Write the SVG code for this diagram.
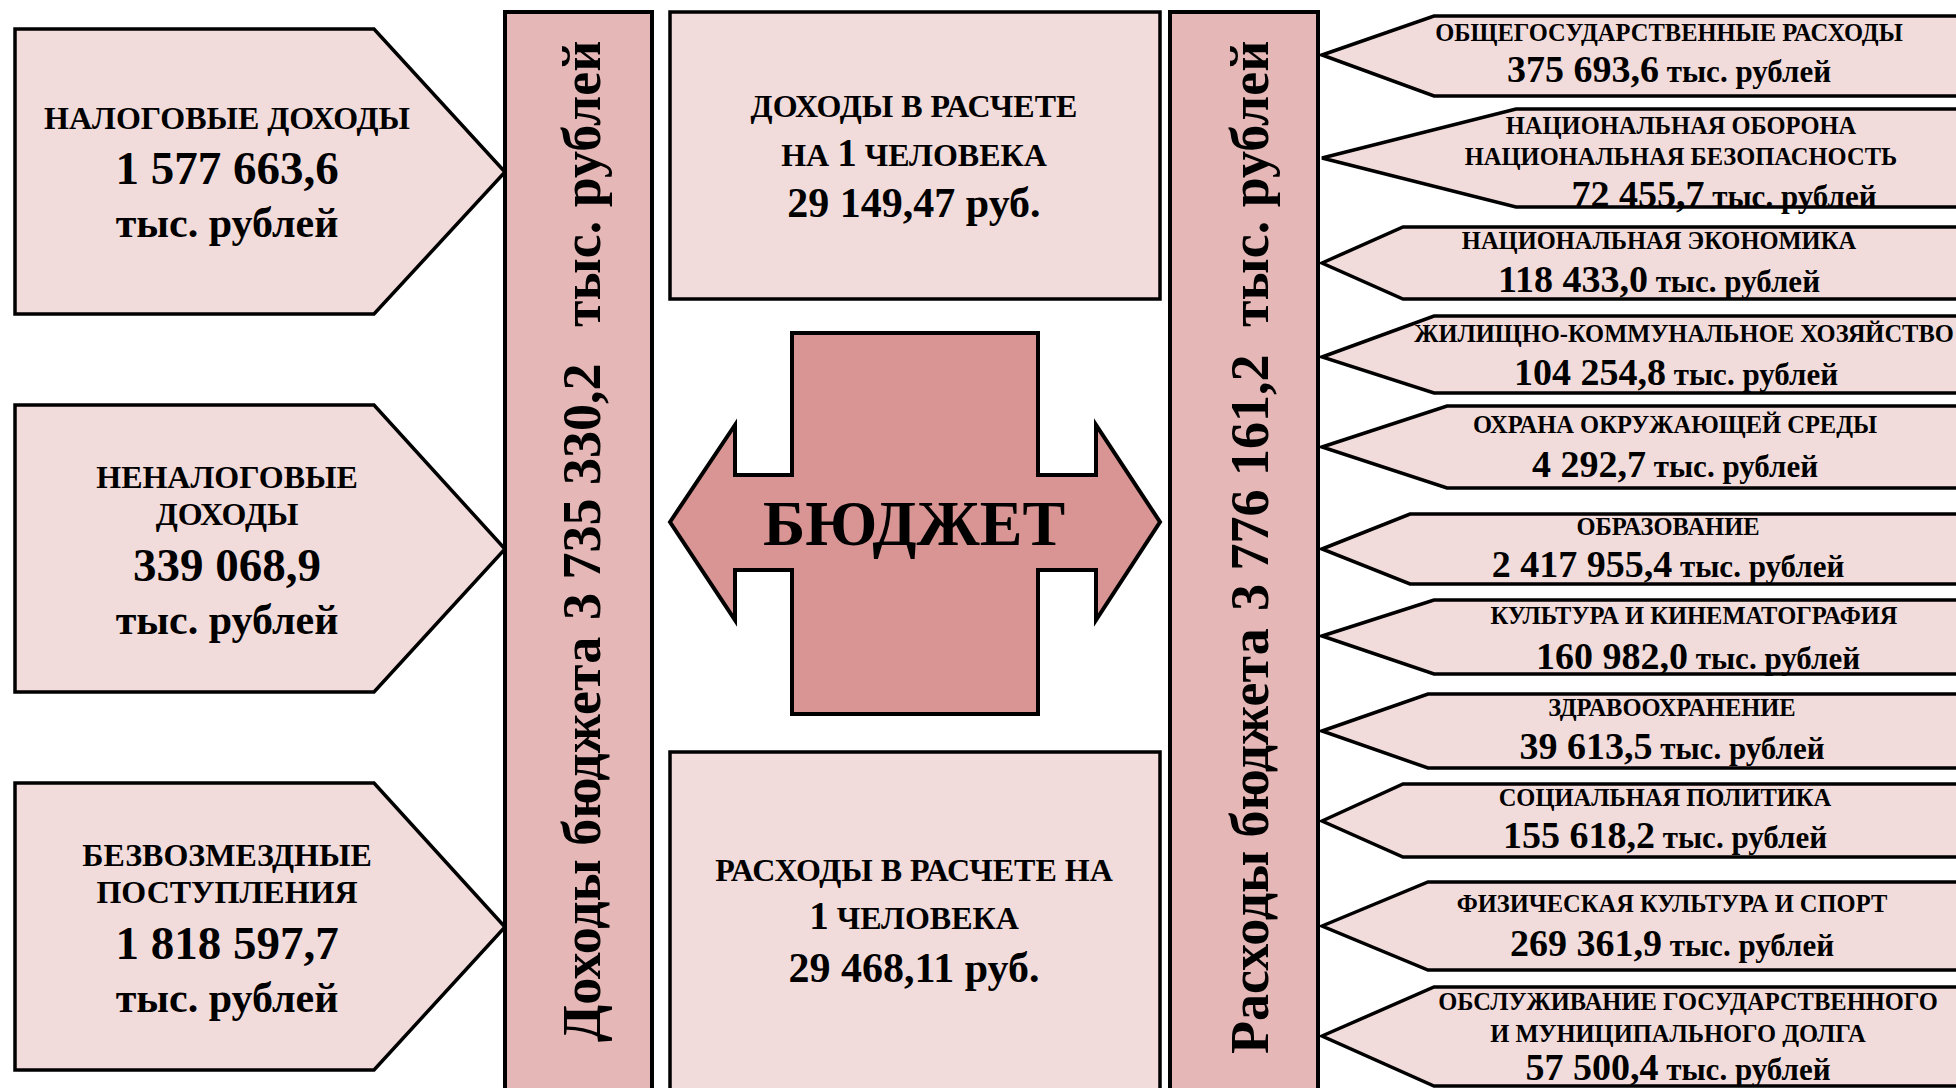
<svg xmlns="http://www.w3.org/2000/svg" width="1956" height="1088" viewBox="0 0 1956 1088">
<style>
.lt{fill:#f2dcdb;stroke:#000;stroke-width:3.5}
.bar{fill:#e5b8b7;stroke:#000;stroke-width:4}
.cross{fill:#d99594;stroke:#000;stroke-width:4}
text{font-family:"Liberation Serif","Times New Roman",serif;font-weight:bold;fill:#000;text-anchor:middle}
.cap{font-size:32px}
.num{font-size:47px}
.unit{font-size:42px}
.rc{font-size:24.5px}
.rn{font-size:38px}
.ru{font-size:31px}
.vt{font-size:54px;text-anchor:start}
</style>
<rect width="1956" height="1088" fill="#fff"/>

<g id="income-tax">
<polygon class="lt" points="15,29 374,29 505,172 374,314 15,314"/>
<text class="cap" x="227" y="129">НАЛОГОВЫЕ ДОХОДЫ</text>
<text class="num" x="227" y="184">1 577 663,6</text>
<text class="unit" x="227" y="237">тыс. рублей</text>
</g>
<g id="income-nontax">
<polygon class="lt" points="15,405 374,405 505,549 374,692 15,692"/>
<text class="cap" x="227" y="488">НЕНАЛОГОВЫЕ</text>
<text class="cap" x="227" y="525">ДОХОДЫ</text>
<text class="num" x="227" y="581">339 068,9</text>
<text class="unit" x="227" y="634">тыс. рублей</text>
</g>
<g id="income-free">
<polygon class="lt" points="15,783 374,783 505,927 374,1070 15,1070"/>
<text class="cap" x="227" y="866">БЕЗВОЗМЕЗДНЫЕ</text>
<text class="cap" x="227" y="903">ПОСТУПЛЕНИЯ</text>
<text class="num" x="227" y="959">1 818 597,7</text>
<text class="unit" x="227" y="1012">тыс. рублей</text>
</g>

<g id="income-bar">
<rect class="bar" x="505" y="12" width="147" height="1080"/>
<text class="vt" transform="translate(600,0) rotate(-90)"><tspan x="-1042" y="0">Доходы бюджета</tspan><tspan x="-620" y="0">3 735 330,2</tspan><tspan x="-327" y="0">тыс. рублей</tspan></text>
</g>

<g id="expense-bar">
<rect class="bar" x="1170" y="12" width="148" height="1080"/>
<text class="vt" transform="translate(1268,0) rotate(-90)"><tspan x="-1054" y="0">Расходы бюджета</tspan><tspan x="-611" y="0">3 776 161,2</tspan><tspan x="-327" y="0">тыс. рублей</tspan></text>
</g>

<g id="per-capita-income">
<rect class="lt" x="670" y="12" width="490" height="287"/>
<text class="cap" x="914" y="117">ДОХОДЫ В РАСЧЕТЕ</text>
<text class="cap" x="914" y="166">НА <tspan font-size="39">1</tspan> ЧЕЛОВЕКА</text>
<text class="unit" x="914" y="217">29 149,47 руб.</text>
</g>

<g id="per-capita-expense">
<rect class="lt" x="670" y="752" width="490" height="340"/>
<text class="cap" x="914" y="881">РАСХОДЫ В РАСЧЕТЕ НА</text>
<text class="cap" x="914" y="929"><tspan font-size="39">1</tspan> ЧЕЛОВЕКА</text>
<text class="unit" x="914" y="982">29 468,11 руб.</text>
</g>

<g id="budget">
<path class="cross" d="M670,522 L735,425 L735,475 L792,475 L792,333 L1038,333 L1038,475 L1096,475 L1096,425 L1160,522 L1096,620 L1096,570 L1038,570 L1038,714 L792,714 L792,570 L735,570 L735,620 Z"/>
<text x="914" y="545" font-size="64">БЮДЖЕТ</text>
</g>

<g id="exp1">
<polygon class="lt" points="1322,55 1434,16 1960,16 1960,96 1434,96"/>
<text class="rc" x="1669" y="41">ОБЩЕГОСУДАРСТВЕННЫЕ РАСХОДЫ</text>
<text x="1669" y="82"><tspan class="rn">375 693,6</tspan><tspan class="ru"> тыс. рублей</tspan></text>
</g>
<g id="exp2">
<polygon class="lt" points="1322,158 1516,109 1960,109 1960,207 1516,207"/>
<text class="rc" x="1681" y="134">НАЦИОНАЛЬНАЯ ОБОРОНА</text>
<text class="rc" x="1681" y="165">НАЦИОНАЛЬНАЯ БЕЗОПАСНОСТЬ</text>
<text x="1724" y="207"><tspan class="rn">72 455,7</tspan><tspan class="ru"> тыс. рублей</tspan></text>
</g>
<g id="exp3">
<polygon class="lt" points="1322,263 1403,227 1960,227 1960,299 1403,299"/>
<text class="rc" x="1659" y="249">НАЦИОНАЛЬНАЯ ЭКОНОМИКА</text>
<text x="1659" y="292"><tspan class="rn">118 433,0</tspan><tspan class="ru"> тыс. рублей</tspan></text>
</g>
<g id="exp4">
<polygon class="lt" points="1322,357 1434,316 1960,316 1960,393 1434,393"/>
<text class="rc" x="1684" y="342">ЖИЛИЩНО-КОММУНАЛЬНОЕ ХОЗЯЙСТВО</text>
<text x="1676" y="385"><tspan class="rn">104 254,8</tspan><tspan class="ru"> тыс. рублей</tspan></text>
</g>
<g id="exp5">
<polygon class="lt" points="1322,447 1447,406 1960,406 1960,488 1447,488"/>
<text class="rc" x="1675" y="433">ОХРАНА ОКРУЖАЮЩЕЙ СРЕДЫ</text>
<text x="1675" y="477"><tspan class="rn">4 292,7</tspan><tspan class="ru"> тыс. рублей</tspan></text>
</g>
<g id="exp6">
<polygon class="lt" points="1322,549 1410,514 1960,514 1960,584 1410,584"/>
<text class="rc" x="1668" y="535">ОБРАЗОВАНИЕ</text>
<text x="1668" y="577"><tspan class="rn">2 417 955,4</tspan><tspan class="ru"> тыс. рублей</tspan></text>
</g>
<g id="exp7">
<polygon class="lt" points="1322,636 1434,600 1960,600 1960,674 1434,674"/>
<text class="rc" x="1694" y="624">КУЛЬТУРА И КИНЕМАТОГРАФИЯ</text>
<text x="1698" y="669"><tspan class="rn">160 982,0</tspan><tspan class="ru"> тыс. рублей</tspan></text>
</g>
<g id="exp8">
<polygon class="lt" points="1322,731 1428,694 1960,694 1960,768 1428,768"/>
<text class="rc" x="1672" y="716">ЗДРАВООХРАНЕНИЕ</text>
<text x="1672" y="759"><tspan class="rn">39 613,5</tspan><tspan class="ru"> тыс. рублей</tspan></text>
</g>
<g id="exp9">
<polygon class="lt" points="1322,821 1403,784 1960,784 1960,857 1403,857"/>
<text class="rc" x="1665" y="806">СОЦИАЛЬНАЯ ПОЛИТИКА</text>
<text x="1665" y="848"><tspan class="rn">155 618,2</tspan><tspan class="ru"> тыс. рублей</tspan></text>
</g>
<g id="exp10">
<polygon class="lt" points="1322,926 1428,882 1960,882 1960,970 1428,970"/>
<text class="rc" x="1672" y="912">ФИЗИЧЕСКАЯ КУЛЬТУРА И СПОРТ</text>
<text x="1672" y="956"><tspan class="rn">269 361,9</tspan><tspan class="ru"> тыс. рублей</tspan></text>
</g>
<g id="exp11">
<polygon class="lt" points="1322,1036 1434,987 1960,987 1960,1086 1434,1086"/>
<text class="rc" x="1688" y="1010">ОБСЛУЖИВАНИЕ ГОСУДАРСТВЕННОГО</text>
<text class="rc" x="1678" y="1042">И МУНИЦИПАЛЬНОГО ДОЛГА</text>
<text x="1678" y="1080"><tspan class="rn">57 500,4</tspan><tspan class="ru"> тыс. рублей</tspan></text>
</g>

<g id="connectors"></g>
</svg>
